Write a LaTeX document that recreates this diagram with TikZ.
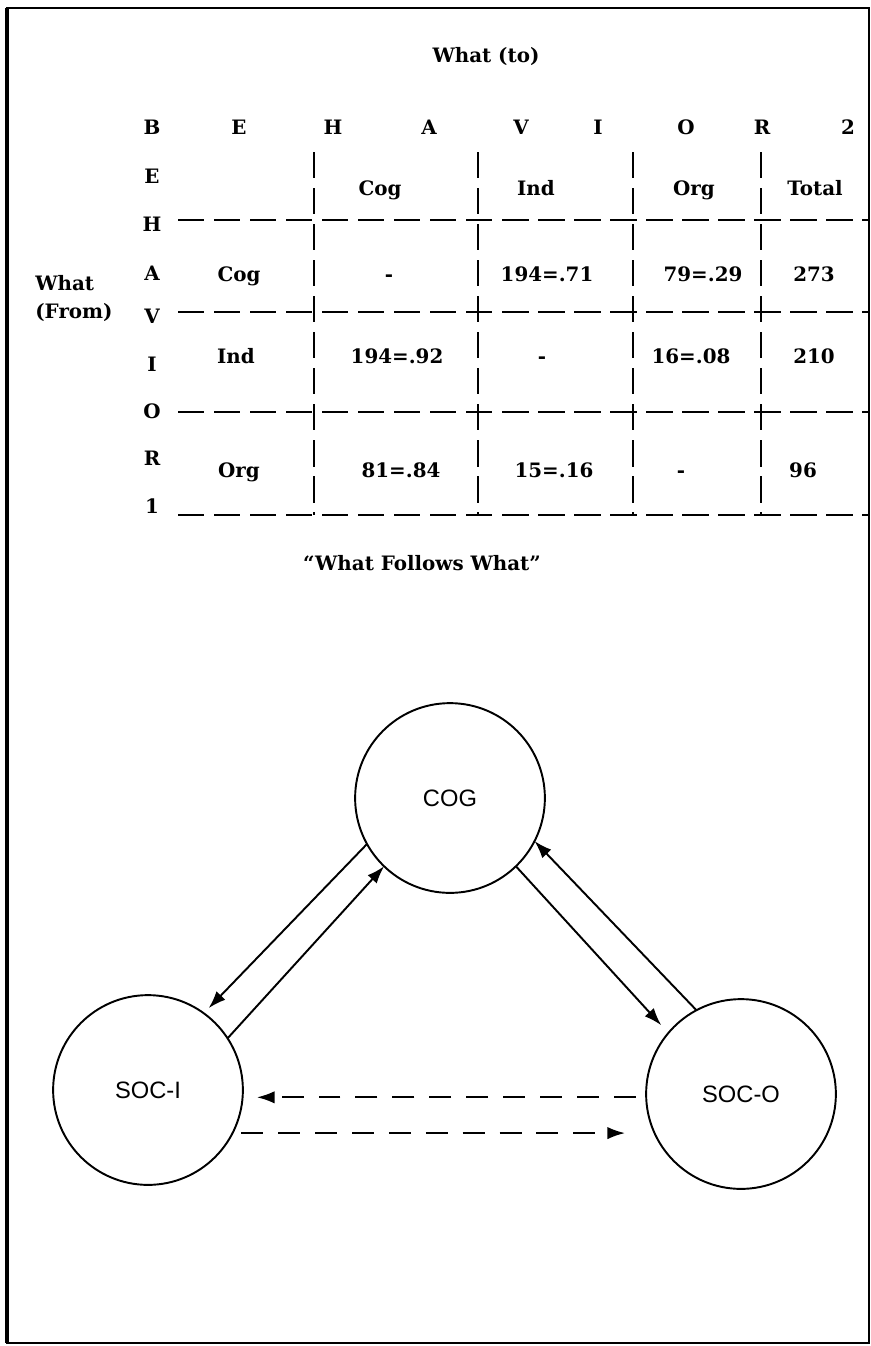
\documentclass[tikz,border=0pt]{standalone}
\usepackage{fontspec}
\setmainfont{DejaVu Serif}
\newfontfamily\statefont{Liberation Sans}
\usetikzlibrary{arrows.meta,calc}

\begin{document}
\begin{tikzpicture}[x=0.02cm, y=-0.02cm,
    txt/.style={anchor=base, inner sep=0pt, font=\fontsize{11.3}{14}\selectfont\bfseries},
    grid/.style={line width=1.5pt, dash pattern=on 15pt off 5.5pt},
    state/.style={circle, draw, line width=1.1pt, minimum size=108pt, inner sep=0pt, outer sep=0pt, font=\statefont\fontsize{13.5}{16}\selectfont},
    link/.style={line width=1.1pt, -{Latex[length=10pt,width=7pt]}},
    dlink/.style={link, dash pattern=on 12.5pt off 8.5pt}
  ]
  \useasboundingbox (0,0) rectangle (871,1346);
  \draw[line width=1.1pt] (7,8) rectangle (869,1343);
  \draw[line width=1.8pt] (7,8) -- (7,1343);

  \foreach \y in {220,312,412,515}
    \draw[grid] (178,\y) -- (869,\y);
  \foreach \x in {314,478,633,761}
    \draw[grid] (\x,152) -- (\x,515);

  \node[txt] (whatto) at (486,62) {What (to)};
  \node[txt, anchor=base west] (what) at (35,290) {What};
  \node[txt, anchor=base west] (from) at (35,318) {(From)};

  \foreach \ch/\x [count=\i] in {B/152,E/239,H/333,A/429,V/521,I/598,O/686,R/762,2/848}
    \node[txt] (top\i) at (\x,134) {\ch};
  \foreach \ch/\y [count=\i] in {E/183,H/231,A/280,V/323,I/371,O/418,R/465,1/513}
    \node[txt] (side\i) at (152,\y) {\ch};

  \node[txt] (hcog) at (380,195) {Cog};
  \node[txt] (hind) at (536,195) {Ind};
  \node[txt] (horg) at (694,195) {Org};
  \node[txt] (htot) at (815,195) {Total};

  \node[txt] (rcog) at (239,281) {Cog};
  \node[txt] (rind) at (236,363) {Ind};
  \node[txt] (rorg) at (239,477) {Org};

  \node[txt] (c11) at (389,281) {-};
  \node[txt] (c12) at (547,281) {194=.71};
  \node[txt] (c13) at (703,281) {79=.29};
  \node[txt] (c14) at (814,281) {273};
  \node[txt] (c21) at (397,363) {194=.92};
  \node[txt] (c22) at (542,363) {-};
  \node[txt] (c23) at (691,363) {16=.08};
  \node[txt] (c24) at (814,363) {210};
  \node[txt] (c31) at (401,477) {81=.84};
  \node[txt] (c32) at (554,477) {15=.16};
  \node[txt] (c33) at (681,477) {-};
  \node[txt] (c34) at (803,477) {96};

  \node[txt] (title) at (422,570) {``What Follows What''};

  \node[state] (cog) at (450,798) {COG};
  \node[state] (soci) at (148,1090) {SOC-I};
  \node[state] (soco) at (741,1094) {SOC-O};

  \draw[link, shorten >=4pt] (cog.209) -- (soci.54);
  \draw[link] (soci.33) -- (cog.226);
  \draw[link, shorten >=6pt] (cog.314) -- (soco.140);
  \draw[link] (soco.118) -- (cog.333);
  \draw[dlink, shorten <=6pt, shorten >=8pt] (soco.182) -- (soco.182 -| soci.east);
  \draw[dlink, shorten <=5pt, shorten >=12pt] (soci.333) -- (soci.333 -| soco.west);
\end{tikzpicture}
\end{document}
